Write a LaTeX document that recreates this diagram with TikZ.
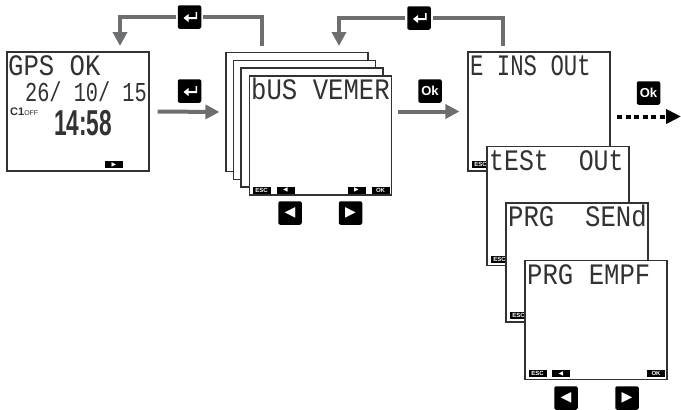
\documentclass[tikz,border=0pt]{standalone}
\usepackage{fontspec}
\setmainfont{Liberation Sans}
\newfontfamily\lcdfont{Liberation Mono}
\newfontfamily\symfont{DejaVu Sans}
\definecolor{flowgray}{RGB}{109,110,112}
\definecolor{framegray}{RGB}{50,50,50}
\usetikzlibrary{arrows.meta, positioning}
\tikzset{
  screen/.style={draw=framegray, fill=white, line width=1.1pt, inner sep=0pt, minimum width=142pt, minimum height=119pt},
  lcd/.style={anchor=base west, inner sep=0pt, text depth=0pt, font=\lcdfont\fontsize{27}{27}\selectfont, text=framegray, yscale=1.1, xscale=0.95, transform shape},
  softkey/.style={fill=black, text=white, inner sep=0pt, minimum width=18pt, minimum height=7pt, font=\bfseries\fontsize{6}{6}\selectfont},
  softsym/.style={softkey, font=\symfont\fontsize{6}{6}\selectfont},
  keycap/.style={fill=black, text=white, rounded corners=2pt, inner sep=0pt, minimum size=23.5pt, outer sep=2pt, font=\bfseries\fontsize{13}{13}\selectfont},
  flow/.style={draw=flowgray, line width=4pt, -{Triangle[length=14pt, width=14pt]}},
}
\begin{document}
\begin{tikzpicture}[x=1pt, y=-1pt]
  \useasboundingbox (0,0) rectangle (681,410);
  % First screen
  \node[screen] (gps) at (78,111.5) {};
  \node[lcd] (gpstxt) at (8,75.5) {GPS\ OK};
  \node[lcd, xscale=0.79, yscale=0.92] (datetxt) at (25,101) {26/\ 10/\ 15};
  \node[anchor=base west, inner sep=0pt, font=\bfseries\fontsize{11}{11}\selectfont, text=framegray] (cone) at (10,115) {C1\fontsize{7}{7}\selectfont\mdseries OFF};
  \node[anchor=base west, inner sep=0pt, font=\bfseries\fontsize{36}{36}\selectfont, text=framegray, xscale=0.63, transform shape] (clock) at (54,135) {14:58};
  \node[softsym] (gpsright) at (114,164.5) {▶};
  % Stacked screens
  \foreach \n/\x/\y in {1/297/112, 2/304.5/120, 3/312/127.5, 4/320.5/135.5}
    \node[screen] (bus\n) at (\x,\y) {};
  \node[lcd] (bustxt) at (251,99) {bUS\ VEMER};
  \foreach \n/\x/\lbl in {esc/261.5/ESC, ok/380.5/OK}
    \node[softkey] (bus\n) at (\x,190) {\lbl};
  \node[softsym] (busleft) at (285.5,190) {◀};
  \node[softsym] (busright) at (356.5,190) {▶};
  % Right hand screens
  \foreach \n/\x/\y/\sx/\lbl in {eins/539/111.5/0.87/{E INS\ OUt}, test/558/206/0.97/{tESt\ \ OUt}, send/577/262.5/1/{PRG\ \ SENd}, empf/596/320/1/{PRG EMPF}} {
    \node[screen] (\n) at (\x,\y) {};
    \node[softkey] (\n esc) at (\x-58.5,\y+53) {ESC};
    \node[lcd, xscale=\sx] (\n txt) at (\x-69,\y-36) {\lbl};
  }
  \node[softsym] (empfleft) at (561,373.5) {◀};
  \node[softkey] (empfok) at (656,373.5) {OK};
  % Keys
  \foreach \n/\x/\y in {entera/189.5/17, enterb/189.5/91, enterc/419/18} {
    \node[keycap] (\n) at (\x,\y) {};
    \fill[white] (\x-6,\y+1) -- (\x-1,\y-3) -- (\x-1,\y) -- (\x+6,\y) -- (\x+6,\y-5) -- (\x+7.5,\y-5) -- (\x+7.5,\y+2) -- (\x-1,\y+2) -- (\x-1,\y+5) -- cycle;
  }
  \foreach \n/\x/\y in {oka/430/91, okb/648.5/93}
    \node[keycap] (\n) at (\x,\y) {Ok};
  \foreach \n/\x/\y/\sym in {keya/290/213/◀, keyb/350.5/213/▶, keyc/566/398/◀, keyd/627/398/▶}
    \node[keycap, font=\symfont\fontsize{14}{14}\selectfont] (\n) at (\x,\y) {\sym};
  % Connectors
  \draw[flow] ([xshift=8pt]gps.east) -- ([xshift=-6pt]bus1.west);
  \draw[flow] ([xshift=6pt]bus4.east |- eins.west) -- ([xshift=-8pt]eins.west);
  \coordinate (backa) at (261.5,46);
  \coordinate (backb) at (503,46);
  \coordinate (returna) at (120,46);
  \coordinate (returnb) at (339,46);
  \draw[flow, -] (backa) |- (entera.east);
  \draw[flow] (entera.west) -| (returna);
  \draw[flow, -] (backb) |- (enterc.east);
  \draw[flow] (enterc.west) -| (returnb);
  \coordinate (morein) at (617,116.5);
  \coordinate (moreout) at (681,116.5);
  \draw[black, line width=4pt, dash pattern=on 5pt off 3.5pt, -{Triangle[length=15pt, width=14pt]}] (morein) -- (moreout);
\end{tikzpicture}
\end{document}
